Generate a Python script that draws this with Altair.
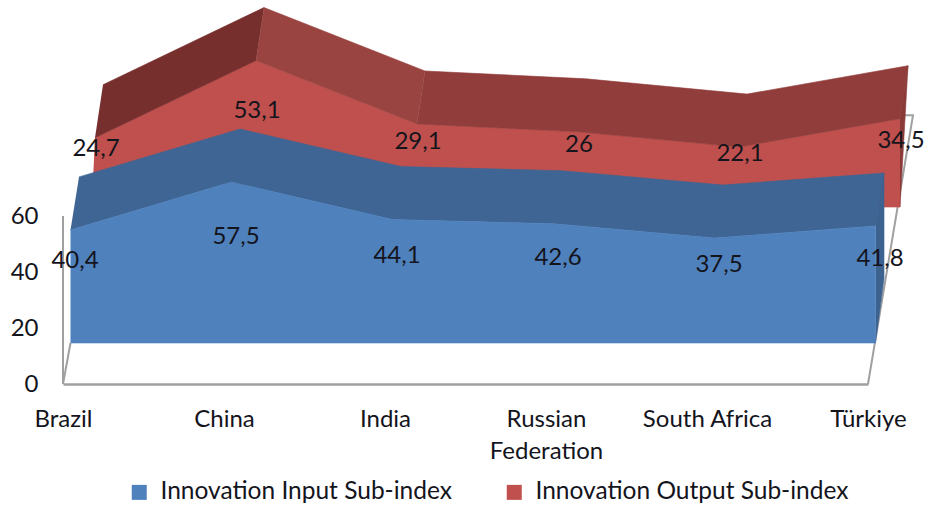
import json

import altair as alt
import pandas as pd

categories = ["Brazil", "China", "India", "Russian Federation", "South Africa", "Türkiye"]
input_values = [40.4, 57.5, 44.1, 42.6, 37.5, 41.8]
output_values = [24.7, 53.1, 29.1, 26.0, 22.1, 34.5]
input_labels = ["40,4", "57,5", "44,1", "42,6", "37,5", "41,8"]
output_labels = ["24,7", "53,1", "29,1", "26", "22,1", "34,5"]
series_names = ["Innovation Input Sub-index", "Innovation Output Sub-index"]
series_colors = ["#4F81BD", "#C0504D"]

# Oblique projection of the pseudo-3D scene, expressed in axis units.
X_SPAN = 805
Y_UNIT = 2.8
BLUE_SHIFT = (7.5 / 161, 41 / Y_UNIT)
BLUE_DEPTH = (8.5 / 161, 53 / Y_UNIT)
RED_SHIFT = (32 / 161, 48.5)
RED_SCALE = 0.606
RED_DEPTH = (8 / 161, 53 / Y_UNIT)
RED_SKIRT = 63.2
BLUE_LABEL = (12 / 161, 23.6)
RED_LABEL = (33 / 161, 61.4, 0.4286)

blue_top_color = "#3E6594"
red_top_runs = [(0, 1, "#772F2E"), (1, 2, "#9A4441"), (2, 5, "#913D3B")]
red_side_color = "#8A3A38"
blue_side_color = "#3C6290"
frame_color = "#A0A0A0"
text_color = "#14141C"
font = "Lato"
font_size = 24

n = len(categories)
totals = [a + b for a, b in zip(input_values, output_values)]

blue_front = [(i + BLUE_SHIFT[0], v + BLUE_SHIFT[1]) for i, v in enumerate(input_values)]
blue_back = [(x + BLUE_DEPTH[0], y + BLUE_DEPTH[1]) for x, y in blue_front]
red_front = [(i + RED_SHIFT[0], RED_SHIFT[1] + t * RED_SCALE) for i, t in enumerate(totals)]
red_back = [(x + RED_DEPTH[0], y + RED_DEPTH[1]) for x, y in red_front]

faces = []


def add_face(name, color, points):
    for k, (x, y) in enumerate(points):
        faces.append({"face": name, "color": color, "k": k, "x": x, "y": y})


blue_floor_x = blue_back[-1][0]
add_face(
    "a_red_front",
    series_colors[1],
    red_front
    + [(red_front[-1][0], RED_SKIRT), (blue_floor_x, RED_SKIRT), (red_front[0][0] - 2 / 161, red_front[0][1] - 15)],
)
for start, stop, color in red_top_runs:
    add_face(
        f"b_red_top_{start}",
        color,
        red_front[start : stop + 1] + red_back[start : stop + 1][::-1],
    )
add_face("c_red_side", red_side_color, [red_front[-1], red_back[-1], (red_front[-1][0], RED_SKIRT)])
add_face("d_blue_top", blue_top_color, blue_front + blue_back[::-1])
add_face(
    "e_blue_side",
    blue_side_color,
    [blue_front[-1], blue_back[-1], (blue_back[-1][0], BLUE_SHIFT[1] + 23), (blue_front[-1][0], BLUE_SHIFT[1])],
)
add_face(
    "f_blue_front",
    series_colors[0],
    blue_front + [(blue_front[-1][0], BLUE_SHIFT[1]), (blue_front[0][0], BLUE_SHIFT[1])],
)
faces_df = pd.DataFrame(faces)

frame_df = pd.DataFrame(
    [
        {"seg": "wall", "k": 0, "x": 0, "y": 0},
        {"seg": "wall", "k": 1, "x": 0, "y": 60},
        {"seg": "left", "k": 0, "x": 0, "y": 0},
        {"seg": "left", "k": 1, "x": BLUE_SHIFT[0], "y": BLUE_SHIFT[1]},
        {"seg": "right", "k": 0, "x": n - 1, "y": 0},
        {"seg": "right", "k": 1, "x": n - 1 + 45 / 161, "y": 96},
        {"seg": "right", "k": 2, "x": n - 1 + 37 / 161, "y": 96},
    ]
)

labels_df = pd.DataFrame(
    [
        {"x": i + BLUE_LABEL[0], "y": BLUE_LABEL[1] + v / 2, "text": t}
        for i, (v, t) in enumerate(zip(input_values, input_labels))
    ]
    + [
        {
            "x": i + RED_LABEL[0],
            "y": RED_LABEL[1] + (a + b / 2) * RED_LABEL[2],
            "text": t,
        }
        for i, (a, b, t) in enumerate(zip(input_values, output_values, output_labels))
    ]
)

label_lines = [c.split(" ") if c == "Russian Federation" else c for c in categories]
label_expr = json.dumps(label_lines, ensure_ascii=False) + "[datum.value]"

x_enc = alt.X(
    "x:Q",
    scale=alt.Scale(domain=[0, n - 1], range=[0, X_SPAN], clamp=False, nice=False, zero=False),
    axis=alt.Axis(
        values=list(range(n)),
        labelExpr=label_expr,
        title=None,
        grid=False,
        ticks=False,
        domainColor=frame_color,
        domainWidth=2.5,
        labelFont=font,
        labelFontSize=font_size,
        labelColor=text_color,
        labelPadding=23,
        labelLineHeight=32,
        labelOverlap=False,
        labelFlush=False,
    ),
)
y_enc = alt.Y(
    "y:Q",
    scale=alt.Scale(domain=[0, 384 / Y_UNIT], range=[384, 0], nice=False, zero=False),
    axis=alt.Axis(
        values=[0, 20, 40, 60],
        title=None,
        grid=False,
        ticks=False,
        domain=False,
        labelFont=font,
        labelFontSize=font_size,
        labelColor=text_color,
        labelPadding=25,
    ),
)

frame = (
    alt.Chart(frame_df)
    .mark_line(color=frame_color, strokeWidth=2)
    .encode(x=x_enc, y=y_enc, detail="seg:N", order="k:Q")
)

polygons = (
    alt.Chart(faces_df)
    .mark_line(strokeWidth=0.6)
    .encode(
        x=x_enc,
        y=y_enc,
        detail="face:N",
        order="k:Q",
        fill=alt.Fill("color:N", scale=None),
        stroke=alt.Stroke("color:N", scale=None),
    )
)

value_text = (
    alt.Chart(labels_df)
    .mark_text(font=font, fontSize=font_size, color=text_color, baseline="middle", align="center")
    .encode(x=x_enc, y=y_enc, text="text:N")
)

legend_layer = (
    alt.Chart(pd.DataFrame({"series": series_names, "x": [0, 0], "y": [0, 0]}))
    .transform_filter("false")
    .mark_square()
    .encode(
        x=x_enc,
        y=y_enc,
        color=alt.Color(
            "series:N",
            scale=alt.Scale(domain=series_names, range=series_colors),
            legend=alt.Legend(
                title=None,
                orient="none",
                legendX=64,
                legendY=480,
                direction="horizontal",
                columns=2,
                symbolType="square",
                symbolSize=225,
                symbolOpacity=1,
                labelFont=font,
                labelFontSize=24.5,
                labelColor=text_color,
                labelLimit=400,
                labelOffset=9,
                columnPadding=50,
            ),
        ),
    )
)

chart = (
    alt.layer(frame, polygons, value_text, legend_layer)
    .properties(
        width=862,
        height=384,
        padding={"left": 63, "top": 0, "right": 0, "bottom": 122},
        autosize=alt.AutoSizeParams(type="none"),
        background="white",
    )
    .configure_view(stroke=None)
)

chart.save("out.html", embed_options={"renderer": "svg", "actions": False})
